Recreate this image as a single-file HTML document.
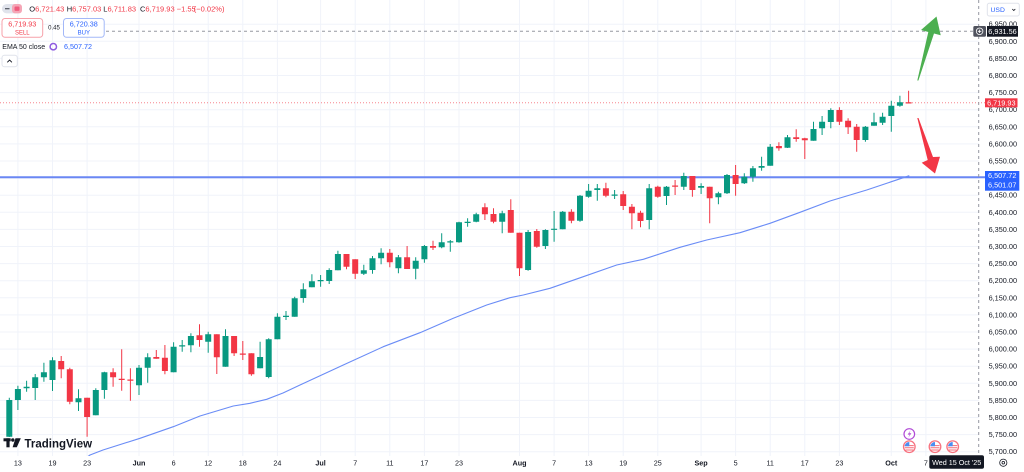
<!DOCTYPE html>
<html><head><meta charset="utf-8"><style>
html,body{margin:0;padding:0;background:#fff;}
svg{display:block;font-family:"Liberation Sans",sans-serif;}
</style></head><body>
<svg width="1024" height="472" viewBox="0 0 1024 472" xmlns="http://www.w3.org/2000/svg">
<rect width="1024" height="472" fill="#fff"/>
<!-- grid -->
<g stroke="#f0f3fa" stroke-width="1">
<path d="M0 24.2H979M0 41.3H979M0 58.4H979M0 75.5H979M0 92.6H979M0 109.7H979M0 126.8H979M0 143.9H979M0 161H979M0 178.1H979M0 195.2H979M0 212.3H979M0 229.4H979M0 246.5H979M0 263.6H979M0 280.7H979M0 297.8H979M0 314.9H979M0 332H979M0 349.1H979M0 366.2H979M0 383.3H979M0 400.4H979M0 417.5H979M0 434.6H979M0 451.7H979"/>
<path d="M17.9 0V456M52.5 0V456M87.1 0V456M139 0V456M173.6 0V456M208.2 0V456M242.8 0V456M277.4 0V456M320.6 0V456M355.2 0V456M389.8 0V456M424.4 0V456M459 0V456M519.5 0V456M554.1 0V456M588.6 0V456M623.2 0V456M657.8 0V456M701.1 0V456M735.6 0V456M770.2 0V456M804.8 0V456M839.4 0V456M891.3 0V456M925.9 0V456"/>
</g>
<!-- horizontal user line -->
<path d="M0 177.3H985" stroke="#6a87f4" stroke-width="2"/>
<!-- current price dotted line -->
<path d="M0 102.7H985" stroke="#f23645" stroke-opacity="0.6" stroke-width="1" stroke-dasharray="1 2"/>
<!-- crosshair -->
<path d="M106 31.3H973" stroke="#9598a1" stroke-width="1" stroke-dasharray="3 3"/>
<path d="M978.7 0V456" stroke="#9598a1" stroke-width="1" stroke-dasharray="3 3"/>
<!-- EMA -->
<svg x="0" y="0" width="979" height="456" overflow="hidden">
<polyline fill="none" stroke="#6a8cf6" stroke-width="1.1" stroke-linejoin="round" points="86,458 90,455 103,450 140,438.3 173.3,426.7 200,416 233.3,406 250,403.3 266.7,399.3 283,393 300,385 343.3,365 383.3,346.7 420,332.7 453.3,318.3 486.7,305 510,297.7 523.3,295 550,288.3 583.3,276.7 616.7,265 643.3,259.3 680,247.3 706.7,240 740,232.7 770,223.3 800,212.3 830,201 866.7,190 909.3,175.7"/>
</svg>
<!-- candles green -->
<path stroke="#089981" stroke-width="1" fill="none" d="M9.3 397.7V437M17.9 385.7V410M26.6 380.7V391.7M35.2 374V400M43.9 362.7V381.7M52.5 357.3V391M78.5 389.3V411M95.8 388.3V415.3M104.4 371.7V398.7M139 365V395M147.7 353.3V382.7M173.6 342.3V372.3M182.2 340V351.7M190.9 333.3V352.3M208.2 331.7V352.7M225.5 329.3V366.7M260.1 341.7V368.3M268.7 338.3V378.3M277.4 313.3V339.3M286 311V320M294.7 296.7V316.7M303.3 283.3V302.7M311.9 274.3V287.3M320.6 275V286.7M329.2 268.3V284M337.9 250.7V270.3M363.8 264.7V275M372.5 256V273.7M381.1 248.3V264.3M398.4 255V273.3M415.7 257.3V279.3M424.4 245V262.7M441.7 233.3V248.3M450.3 240V251.7M459 221.7V242.7M467.6 218.3V226.7M476.2 212.7V222.3M502.2 210.7V233.3M528.1 230V270.7M545.4 229.3V249M554.1 211V241.7M562.7 211V229.3M580 195V221.7M588.6 184V197.7M597.3 184V200.7M614.6 190V199M649.2 184V229.3M666.5 186V205M683.8 172.7V190M701.1 183.3V194M718.4 191.7V204.3M727 174V194M744.3 173.3V184M752.9 166V181.7M761.6 156.7V170.7M770.2 144V165.7M787.5 135V148M813.5 121.7V140.7M822.1 116V135M830.8 108.3V128.3M865.4 126V141.7M874 112.7V125.7M882.6 112.7V125M891.3 100.7V131.7M899.9 95.7V106.7"/>
<path fill="#089981" d="M6.3 400h6V436.7h-6zM14.9 389h6V400h-6zM23.6 386.7h6V388.3h-6zM32.2 377.3h6V388h-6zM40.9 372.3h6V377.3h-6zM49.5 360.3h6V380h-6zM75.5 398.3h6V402.3h-6zM92.8 390h6V415.3h-6zM101.4 372.3h6V390h-6zM136 367.7h6V385.3h-6zM144.7 357.3h6V367.7h-6zM170.6 346.7h6V372.3h-6zM179.2 345.3h6V346.5h-6zM187.9 336h6V345.3h-6zM205.2 334.3h6V341.7h-6zM222.5 336h6V366.7h-6zM257.1 357h6V368.3h-6zM265.7 339.3h6V377h-6zM274.4 316.7h6V339.3h-6zM283 315.7h6V317h-6zM291.7 298.3h6V316.7h-6zM300.3 289.3h6V298h-6zM308.9 281.3h6V287.3h-6zM317.6 280h6V281.3h-6zM326.2 270h6V281h-6zM334.9 254h6V270.3h-6zM360.8 270.3h6V273.7h-6zM369.5 258.3h6V270h-6zM378.1 252.7h6V258.3h-6zM395.4 257.3h6V268.3h-6zM412.7 260.7h6V268.7h-6zM421.4 246h6V259.3h-6zM438.7 242.3h6V247.3h-6zM447.3 241.3h6V242.5h-6zM456 222.3h6V242.3h-6zM464.6 221.7h6V223h-6zM473.2 214.3h6V221.7h-6zM499.2 213.3h6V221.7h-6zM525.1 232h6V270h-6zM542.4 230h6V246h-6zM551.1 228.7h6V229.9h-6zM559.7 211.7h6V229.3h-6zM577 195.7h6V220.7h-6zM585.6 190.7h6V196.7h-6zM594.3 188.3h6V190h-6zM611.6 194.5h6V195.7h-6zM646.2 188.3h6V220h-6zM663.5 186.7h6V196h-6zM680.8 176h6V186.7h-6zM698.1 186h6V187.7h-6zM715.4 193.3h6V197.3h-6zM724 175h6V193.3h-6zM741.3 176.7h6V183.3h-6zM749.9 168.3h6V176.7h-6zM758.6 166h6V167.7h-6zM767.2 146.7h6V165.7h-6zM784.5 137.3h6V147.7h-6zM810.5 129h6V140.7h-6zM819.1 121.7h6V128.3h-6zM827.8 110h6V122h-6zM862.4 126.7h6V140h-6zM871 122.3h6V125.7h-6zM879.6 116.7h6V122.7h-6zM888.3 105.7h6V116h-6zM896.9 102.3h6V105.7h-6z"/>
<!-- candles red -->
<path stroke="#f23645" stroke-width="1" fill="none" d="M61.2 356V378.3M69.8 367.7V404.3M87.1 397.7V436.7M113.1 368.3V386.7M121.7 349.3V390.7M130.4 368.3V400.7M156.3 350V358.7M164.9 345V374.3M199.5 324.3V346.7M216.8 334.3V374M234.1 336V356M242.8 341V360M251.4 353.3V375.7M346.5 254V269.3M355.2 259.3V279M389.8 249V267.3M407.1 246V269M433 240.7V250M484.9 203.3V220M493.5 208.3V223.3M510.8 199.3V232.7M519.5 232.7V276M536.8 229V247.7M571.4 209.3V223.3M605.9 182.7V197.3M623.2 191V210M631.9 204V229.3M640.5 210.7V227.3M657.8 185.7V197.7M675.1 180V195M692.4 176V196.7M709.7 186.7V223.3M735.6 165V195.7M778.9 142.3V150.7M796.2 129.3V141.7M804.8 137.7V159M839.4 107.3V125M848.1 118.3V134M856.7 124V151.7M908.6 90.7V103.3"/>
<path fill="#f23645" d="M58.2 361h6V369.3h-6zM66.8 369.3h6V401.7h-6zM84.1 397.7h6V417h-6zM110.1 372.3h6V377.3h-6zM118.7 378.7h6V380h-6zM127.4 379.5h6V380.7h-6zM153.3 357h6V358.7h-6zM161.9 357.7h6V371h-6zM196.5 335.3h6V340h-6zM213.8 334.3h6V357.3h-6zM231.1 336h6V353.3h-6zM239.8 353.5h6V354.7h-6zM248.4 353.3h6V374.3h-6zM343.5 254h6V266.7h-6zM352.2 259.3h6V273.7h-6zM386.8 252.7h6V262.3h-6zM404.1 257.3h6V269h-6zM430 246h6V247.7h-6zM481.9 207.3h6V214.3h-6zM490.5 214h6V221.7h-6zM507.8 210h6V232.7h-6zM516.5 232.7h6V268.3h-6zM533.8 231h6V246.7h-6zM568.4 211.7h6V220.7h-6zM602.9 188.3h6V195.7h-6zM620.2 194.3h6V206h-6zM628.9 206.7h6V213.3h-6zM637.5 212.7h6V221h-6zM654.8 186.7h6V196.7h-6zM672.1 185.5h6V186.7h-6zM689.4 176h6V190h-6zM706.7 186.7h6V198.3h-6zM732.6 175h6V184h-6zM775.9 146h6V148.3h-6zM793.2 137.3h6V139h-6zM801.8 138.3h6V140.3h-6zM836.4 110h6V121.7h-6zM845.1 120.7h6V127.3h-6zM853.7 126.7h6V140h-6zM905.6 102.3h6V103.5h-6z"/>
<!-- arrows -->
<path fill="#4caf50" d="M917.3 80.5L928.3 32L921 30L936.5 16.5L940.7 35.3L934 33.5L918.4 80.5Z"/>
<path fill="#f23645" d="M917.3 118L927.7 160L921.7 162.7L935 173.5L940 156.7L933 157L918.5 118Z"/>
<!-- event icons -->
<circle cx="909.3" cy="434" r="5.3" fill="#fff" stroke="#b04ad6" stroke-width="1.2"/>
<path fill="#b04ad6" d="M910.6 430.3L907.6 434.6H909.7L908.2 437.7L911.4 433.2H909.3Z"/>
<g>
<circle cx="909.3" cy="446.7" r="5.8" fill="#fff" stroke="#f77380" stroke-width="1.3"/>
<path d="M904.8 445.6h9M904.8 447.8h9M905.5 450h7.6" stroke="#f46b78" stroke-width="1"/>
<path d="M904.6 446.2A4.7 4.7 0 0 1 909.3 442V446.2Z" fill="#4a8ef2"/>
<circle cx="935" cy="446.7" r="5.8" fill="#fff" stroke="#f77380" stroke-width="1.3"/>
<path d="M930.5 445.6h9M930.5 447.8h9M931.2 450h7.6" stroke="#f46b78" stroke-width="1"/>
<path d="M930.3 446.2A4.7 4.7 0 0 1 935 442V446.2Z" fill="#4a8ef2"/>
<circle cx="952.7" cy="446.7" r="5.8" fill="#fff" stroke="#f77380" stroke-width="1.3"/>
<path d="M948.2 445.6h9M948.2 447.8h9M948.9 450h7.6" stroke="#f46b78" stroke-width="1"/>
<path d="M948 446.2A4.7 4.7 0 0 1 952.7 442V446.2Z" fill="#4a8ef2"/>
</g>
<!-- TradingView logo -->
<g fill="#131722">
<rect x="3.5" y="438.3" width="7.2" height="3"/>
<rect x="6.4" y="438.3" width="3.2" height="9"/>
<circle cx="12.8" cy="440" r="1.7"/>
<path d="M15.5 438.3H20.8L16.8 447.3H12.6Z"/>
<text x="24.5" y="447.3" font-size="11.5" font-weight="bold">TradingView</text>
</g>
<!-- price axis -->
<g font-size="7.3" fill="#131722" text-anchor="end">
<text x="1017" y="26.7">6,950.00</text>
<text x="1017" y="43.8">6,900.00</text>
<text x="1017" y="60.9">6,850.00</text>
<text x="1017" y="78">6,800.00</text>
<text x="1017" y="95.1">6,750.00</text>
<text x="1017" y="112.2">6,700.00</text>
<text x="1017" y="129.3">6,650.00</text>
<text x="1017" y="146.4">6,600.00</text>
<text x="1017" y="163.5">6,550.00</text>
<text x="1017" y="197.7">6,450.00</text>
<text x="1017" y="214.8">6,400.00</text>
<text x="1017" y="231.9">6,350.00</text>
<text x="1017" y="249">6,300.00</text>
<text x="1017" y="266.1">6,250.00</text>
<text x="1017" y="283.2">6,200.00</text>
<text x="1017" y="300.3">6,150.00</text>
<text x="1017" y="317.4">6,100.00</text>
<text x="1017" y="334.5">6,050.00</text>
<text x="1017" y="351.6">6,000.00</text>
<text x="1017" y="368.7">5,950.00</text>
<text x="1017" y="385.8">5,900.00</text>
<text x="1017" y="402.9">5,850.00</text>
<text x="1017" y="420">5,800.00</text>
<text x="1017" y="437.1">5,750.00</text>
<text x="1017" y="454.2">5,700.00</text>
</g>
<!-- USD box -->
<rect x="987.3" y="3.3" width="32" height="12.7" rx="2" fill="#fff" stroke="#e0e3eb"/>
<text x="990.5" y="12.2" font-size="6.8" fill="#2962ff">USD</text>
<path d="M1012.3 9l1.5 1.5 1.5-1.5" fill="none" stroke="#131722" stroke-width="0.8"/>
<!-- crosshair price label -->
<rect x="973.3" y="26" width="12.7" height="10.7" rx="1.5" fill="#50535e"/>
<circle cx="979.6" cy="31.3" r="3.3" fill="none" stroke="#fff" stroke-width="0.8"/>
<path d="M979.6 29.6V33M977.9 31.3H981.3" stroke="#fff" stroke-width="0.8"/>
<rect x="987" y="26" width="31" height="10.7" fill="#131722"/>
<text x="1002.5" y="33.9" font-size="7.3" fill="#fff" text-anchor="middle">6,931.56</text>
<!-- current price label -->
<rect x="985" y="98.3" width="32.5" height="9" fill="#f23645"/>
<text x="1001.3" y="105.4" font-size="7.3" fill="#fff" text-anchor="middle">6,719.93</text>
<!-- EMA labels -->
<rect x="985" y="171" width="34.3" height="19.7" fill="#2962ff"/>
<text x="1002.2" y="177.8" font-size="7.3" fill="#fff" text-anchor="middle">6,507.72</text>
<text x="1002.2" y="187.6" font-size="7.3" fill="#fff" text-anchor="middle">6,501.07</text>
<!-- x axis labels -->
<g font-size="7.2" fill="#131722" text-anchor="middle">
<text x="17.9" y="465.3">13</text>
<text x="52.5" y="465.3">19</text>
<text x="87.1" y="465.3">23</text>
<text x="139" y="465.3" font-weight="bold">Jun</text>
<text x="173.6" y="465.3">6</text>
<text x="208.2" y="465.3">12</text>
<text x="242.8" y="465.3">18</text>
<text x="277.4" y="465.3">24</text>
<text x="320.6" y="465.3" font-weight="bold">Jul</text>
<text x="355.2" y="465.3">7</text>
<text x="389.8" y="465.3">11</text>
<text x="424.4" y="465.3">17</text>
<text x="459" y="465.3">23</text>
<text x="519.5" y="465.3" font-weight="bold">Aug</text>
<text x="554.1" y="465.3">7</text>
<text x="588.6" y="465.3">13</text>
<text x="623.2" y="465.3">19</text>
<text x="657.8" y="465.3">25</text>
<text x="701.1" y="465.3" font-weight="bold">Sep</text>
<text x="735.6" y="465.3">5</text>
<text x="770.2" y="465.3">11</text>
<text x="804.8" y="465.3">17</text>
<text x="839.4" y="465.3">23</text>
<text x="891.3" y="465.3" font-weight="bold">Oct</text>
<text x="925.9" y="465.3">7</text>
</g>
<rect x="929.3" y="455.3" width="54.7" height="13.4" rx="2" fill="#131722"/>
<text x="956.7" y="465" font-size="7.2" fill="#fff" text-anchor="middle">Wed 15 Oct '25</text>
<circle cx="1003.3" cy="462.7" r="3.6" fill="none" stroke="#131722" stroke-width="0.8"/>
<circle cx="1003.3" cy="462.7" r="1.3" fill="none" stroke="#131722" stroke-width="0.8"/>
<!-- header -->
<rect x="2" y="4" width="20" height="9.4" rx="4.7" fill="#e0e3eb"/>
<path d="M5 8.7H9.5" stroke="#50535e" stroke-width="1.2"/>
<rect x="12" y="4" width="10" height="9.4" rx="3" fill="#f5a6b6"/>
<rect x="14.5" y="6.5" width="5" height="4.4" rx="1" fill="#ef5b7d"/>
<g font-size="7.5" fill="#f23645">
<text x="29.3" y="11.7"><tspan fill="#131722">O</tspan>6,721.43</text>
<text x="66.7" y="11.7"><tspan fill="#131722">H</tspan>6,757.03</text>
<text x="103.3" y="11.7"><tspan fill="#131722">L</tspan>6,711.83</text>
<text x="140" y="11.7"><tspan fill="#131722">C</tspan>6,719.93</text>
<text x="176.7" y="11.7">−1.55</text>
<text x="193.8" y="11.7">(−0.02%)</text>
</g>
<rect x="2" y="18.5" width="40.7" height="18.8" rx="3" fill="#fff" stroke="#f7a1a9"/>
<text x="22.3" y="26.3" font-size="7.2" fill="#f23645" text-anchor="middle">6,719.93</text>
<text x="22.3" y="34.3" font-size="6" fill="#f23645" text-anchor="middle">SELL</text>
<text x="54" y="29.6" font-size="6" fill="#131722" text-anchor="middle">0.45</text>
<rect x="63.5" y="18.5" width="40.7" height="18.8" rx="3" fill="#fff" stroke="#a3b8f8"/>
<text x="83.8" y="26.3" font-size="7.2" fill="#2962ff" text-anchor="middle">6,720.38</text>
<text x="83.8" y="34.3" font-size="6" fill="#2962ff" text-anchor="middle">BUY</text>
<text x="2.3" y="49.2" font-size="7" fill="#131722">EMA 50 close</text>
<circle cx="53.3" cy="46.7" r="3.2" fill="none" stroke="#8e5be0" stroke-width="1.5"/>
<text x="64" y="49.2" font-size="7.2" fill="#2962ff">6,507.72</text>
<rect x="2" y="55.2" width="15.3" height="11.5" rx="2.5" fill="#fff" stroke="#e0e3eb"/>
<path d="M7.3 62.3L9.6 60L11.9 62.3" fill="none" stroke="#131722" stroke-width="0.9"/>
</svg>
</body></html>
